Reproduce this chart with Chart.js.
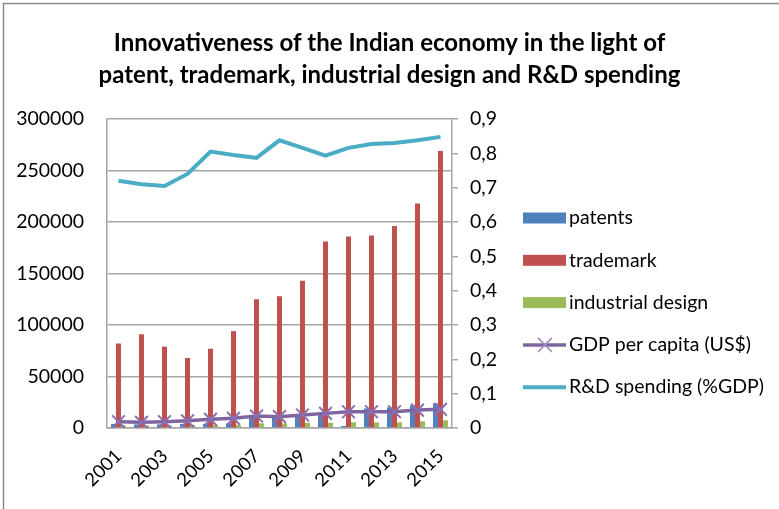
<!DOCTYPE html>
<html>
<head>
<meta charset="utf-8">
<script src="https://cdn.jsdelivr.net/npm/chart.js@4.4.1/dist/chart.umd.min.js"></script>
<style>
  html, body { margin: 0; padding: 0; background: #fff; }
  canvas { display: block; }
</style>
</head>
<body>
<canvas id="myChart" width="779" height="509"></canvas>
<script>
// values
const years = ['2001', '2002', '2003', '2004', '2005', '2006', '2007', '2008', '2009', '2010', '2011', '2012', '2013', '2014', '2015'];
const patents = [4000, 3500, 3500, 4000, 4000, 4500, 10500, 11000, 11500, 14500, 2000, 19000, 20000, 22000, 24000];
const trademark = [82000, 91000, 79000, 68000, 77000, 94000, 125000, 128000, 143000, 181000, 186000, 187000, 196000, 218000, 269000];
const industrialDesign = [2500, 2500, 2500, 3000, 3000, 3000, 4500, 4500, 5000, 5000, 5500, 5500, 5500, 6500, 7500];
const gdpPerCapita = [6100, 5500, 6100, 7000, 8400, 9400, 11600, 11000, 12600, 14200, 15800, 15800, 15800, 17400, 18100];
const rdSpending = [0.72, 0.71, 0.705, 0.74, 0.805, 0.795, 0.787, 0.838, 0.816, 0.793, 0.816, 0.827, 0.83, 0.838, 0.848];
const leftTicks = [0, 50000, 100000, 150000, 200000, 250000, 300000];
const rightTicks = [0, 0.1, 0.2, 0.3, 0.4, 0.5, 0.6, 0.7, 0.8, 0.9];

const FONT = 'Lato';
const gridGrey = '#a6a6a6';

// frame round the figure
const framePlugin = {
    id: 'frame',
    beforeDraw(chart) {
        const c = chart.ctx;
        c.save();
        c.strokeStyle = '#8c8c8c';
        c.lineWidth = 1.5;
        c.beginPath();
        c.moveTo(3.5, chart.height);
        c.lineTo(3.5, 3.5);
        c.lineTo(chart.width, 3.5);
        c.stroke();
        c.restore();
    }
};

// Excel style legend on the right
const sideLegend = {
    id: 'sideLegend',
    afterDraw(chart) {
        const c = chart.ctx;
        const x0 = chart.chartArea.right + 71;
        const y0 = chart.chartArea.top + 99;
        c.save();
        chart.data.datasets.forEach(function (ds, i) {
            const y = y0 + i * 42.3;
            if (ds.type === 'line') {
                c.strokeStyle = ds.borderColor;
                c.lineWidth = ds.borderWidth;
                c.beginPath();
                c.moveTo(x0, y);
                c.lineTo(x0 + 43, y);
                c.stroke();
                if (ds.pointStyle === 'crossRot') {
                    c.strokeStyle = '#a08bc0';
                    c.lineWidth = 1.5;
                    c.beginPath();
                    c.moveTo(x0 + 15, y - 7);
                    c.lineTo(x0 + 29, y + 7);
                    c.moveTo(x0 + 15, y + 7);
                    c.lineTo(x0 + 29, y - 7);
                    c.stroke();
                }
            } else {
                c.fillStyle = ds.backgroundColor;
                c.fillRect(x0, y - 5.5, 43, 11);
            }
            c.fillStyle = '#000';
            c.font = '19.5px ' + FONT;
            c.textBaseline = 'middle';
            c.fillText(ds.label, x0 + 46, y);
        });
        c.restore();
    }
};

const ctx = document.getElementById('myChart');
let myChart = new Chart(ctx, {
    type: 'bar',
    data: {
        labels: years,
        datasets: [
            {label: 'patents', data: patents, backgroundColor: '#4f81bd', yAxisID: 'y', order: 2},
            {label: 'trademark', data: trademark, backgroundColor: '#c0504d', yAxisID: 'y', order: 2},
            {label: 'industrial design', data: industrialDesign, backgroundColor: '#9bbb59', yAxisID: 'y', order: 2},
            {
                type: 'line', label: 'GDP per capita (US$)', data: gdpPerCapita, yAxisID: 'y', order: 1,
                borderColor: '#8064a2', backgroundColor: '#8064a2', borderWidth: 3.5, tension: 0,
                pointStyle: 'crossRot', pointRadius: 9, pointBorderWidth: 2, pointBorderColor: '#8a6fb0'
            },
            {
                type: 'line', label: 'R&D spending (%GDP)', data: rdSpending, yAxisID: 'y1', order: 0,
                borderColor: '#4bacc6', backgroundColor: '#4bacc6', borderWidth: 4, tension: 0, pointRadius: 0
            }
        ]
    },
    options: {
        responsive: false,
        animation: false,
        events: [],
        layout: {padding: 0},
        datasets: {bar: {categoryPercentage: 0.65, barPercentage: 1}},
        plugins: {
            legend: {display: false},
            tooltip: {enabled: false},
            title: {
                display: true,
                text: ['Innovativeness of the Indian economy in the light of', 'patent, trademark, industrial design and R&D spending'],
                color: '#000',
                font: {family: FONT, size: 24, weight: 'bold', lineHeight: 32 / 24},
                padding: {top: 27, bottom: 28}
            }
        },
        scales: {
            x: {
                grid: {display: false, drawTicks: false},
                border: {display: true, color: gridGrey, width: 1.5},
                ticks: {
                    autoSkip: false, minRotation: 45, maxRotation: 45, padding: 17,
                    color: '#000', font: {family: FONT, size: 18.5},
                    callback: function (v, i) { return i % 2 === 0 ? years[i] : ''; }
                },
                afterFit: function (s) { s.height = 81; }
            },
            y: {
                position: 'left', min: 0, max: 300000,
                afterBuildTicks: function (s) { s.ticks = leftTicks.map(v => ({value: v})); },
                grid: {color: gridGrey, lineWidth: 1.5, drawTicks: false},
                border: {display: true, color: gridGrey, width: 1.5},
                ticks: {
                    padding: 23, color: '#000', font: {family: FONT, size: 19.5},
                    callback: function (v) { return String(v); }
                },
                afterFit: function (s) { s.width = 107; }
            },
            y1: {
                position: 'right', min: 0, max: 0.9,
                afterBuildTicks: function (s) { s.ticks = rightTicks.map(v => ({value: v})); },
                grid: {drawOnChartArea: false, color: gridGrey, lineWidth: 1.5, tickLength: 6},
                border: {display: true, color: gridGrey, width: 1.5},
                ticks: {
                    padding: 12, color: '#000', font: {family: FONT, size: 19.5},
                    callback: function (v) { return v === 0 ? '0' : (Math.round(v * 10) / 10).toFixed(1).replace('.', ','); }
                },
                afterFit: function (s) { s.width = 779 - 452; }
            }
        }
    },
    plugins: [framePlugin, sideLegend]
});
</script>
</body>
</html>
